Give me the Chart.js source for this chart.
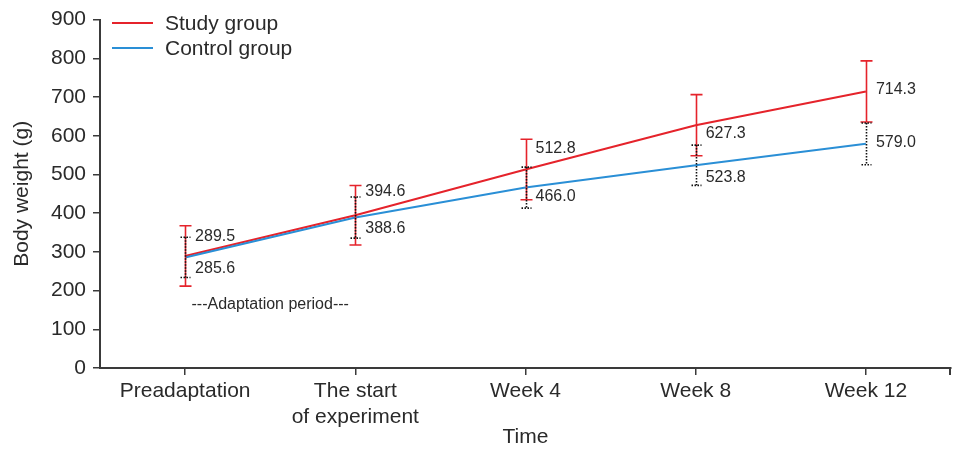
<!DOCTYPE html>
<html>
<head>
<meta charset="utf-8">
<title>Body weight</title>
<script src="https://cdn.jsdelivr.net/npm/chart.js@4/dist/chart.umd.min.js"></script>
<style>
    html, body {
        margin: 0;
        padding: 0;
        background: #fff;
    }

    .chart-box {
        position: relative;
        width: 957px;
        height: 450px;
    }
</style>
</head>
<body>

<div class="chart-box">
    <canvas id="cWeight"></canvas>
</div>

<script>
/* =========================================================
   DATA
========================================================= */

const labels = [
    "Preadaptation",
    ["The start", "of experiment"],
    "Week 4",
    "Week 8",
    "Week 12"
];

const studyMean = [289.5, 394.6, 512.8, 627.3, 714.3];
const studySD = [78, 77, 78, 79, 79];

const controlMean = [285.6, 388.6, 466.0, 523.8, 579.0];
const controlSD = [52, 53, 53, 52, 54];

const yTicks = { min: 0, max: 900, step: 100 };

/* =========================================================
   STYLE
========================================================= */

const RED = "#e5232b";
const BLUE = "#2a8fd6";
const AXIS = "#3a3a3a";
const TEXT = "#2a2a2a";
const FONT = "'Liberation Sans', Arial, Helvetica, sans-serif";

Chart.defaults.font.family = FONT;
Chart.defaults.color = TEXT;

/* =========================================================
   PLUGIN: error bars, value labels, legend, note
========================================================= */

const extras = {
    id: "extras",

    afterDatasetsDraw(chart, args, opts) {

        const ctx = chart.ctx;
        const y = chart.scales.y;
        const x = chart.scales.x;

        // error bars: study (solid red) then control (dotted black)
        opts.bars.forEach(bar => {

            const meta = chart.getDatasetMeta(bar.index);
            const ds = chart.data.datasets[bar.index];

            ctx.save();
            ctx.strokeStyle = bar.color;
            ctx.lineWidth = bar.width;
            ctx.setLineDash(bar.dash);

            meta.data.forEach((pt, i) => {

                const top = y.getPixelForValue(ds.data[i] + bar.err[i]);
                const bot = y.getPixelForValue(ds.data[i] - bar.err[i]);
                const cx = Math.round(pt.x) + 0.5;

                ctx.beginPath();
                ctx.moveTo(cx, top);
                ctx.lineTo(cx, bot);
                ctx.moveTo(cx - bar.cap, top);
                ctx.lineTo(cx + bar.cap, top);
                ctx.moveTo(cx - bar.cap, bot);
                ctx.lineTo(cx + bar.cap, bot);
                ctx.stroke();
            });

            ctx.restore();
        });

        // value labels
        ctx.save();
        ctx.font = "16px " + FONT;
        ctx.fillStyle = TEXT;
        ctx.textAlign = "left";
        ctx.textBaseline = "middle";

        opts.bars.forEach(bar => {

            const meta = chart.getDatasetMeta(bar.index);
            const ds = chart.data.datasets[bar.index];

            meta.data.forEach((pt, i) => {
                ctx.fillText(
                    ds.data[i].toFixed(1),
                    pt.x + 10,
                    pt.y + bar.shift[i]
                );
            });
        });

        // adaptation note, centred between the first two categories
        ctx.textAlign = "center";
        const nx = (x.getPixelForValue(0) + x.getPixelForValue(1)) / 2;
        ctx.fillText(opts.note, nx, y.getPixelForValue(165));

        ctx.restore();
    },

    afterDraw(chart, args, opts) {

        const ctx = chart.ctx;
        const area = chart.chartArea;

        // closing tick at the right end of the x axis
        ctx.save();
        ctx.strokeStyle = AXIS;
        ctx.lineWidth = 2;
        ctx.beginPath();
        ctx.moveTo(area.right - 1, area.bottom);
        ctx.lineTo(area.right - 1, area.bottom + 7);
        ctx.stroke();

        // legend
        ctx.font = "21px " + FONT;
        ctx.textAlign = "left";
        ctx.textBaseline = "middle";
        ctx.lineWidth = 2;

        chart.data.datasets.forEach((ds, i) => {
            const ly = 23 + i * 25;
            ctx.strokeStyle = ds.borderColor;
            ctx.beginPath();
            ctx.moveTo(112, ly);
            ctx.lineTo(153, ly);
            ctx.stroke();
            ctx.fillStyle = TEXT;
            ctx.fillText(ds.label, 165, ly + 1);
        });

        ctx.restore();
    }
};

/* =========================================================
   CHART
========================================================= */

new Chart(document.getElementById("cWeight"), {
    type: "line",

    data: {
        labels,

        datasets: [
            {
                label: "Study group",
                data: studyMean,
                borderColor: RED,
                borderWidth: 2,
                pointRadius: 0,
                tension: 0,
                order: 2
            },
            {
                label: "Control group",
                data: controlMean,
                borderColor: BLUE,
                borderWidth: 2,
                pointRadius: 0,
                tension: 0,
                order: 1
            }
        ]
    },

    options: {
        responsive: true,
        maintainAspectRatio: false,
        animation: false,

        layout: {
            padding: { top: 16, right: 6, left: 0, bottom: 0 }
        },

        plugins: {
            legend: { display: false },
            tooltip: { enabled: false },

            extras: {
                note: "---Adaptation period---",
                bars: [
                    {
                        index: 0,
                        err: studySD,
                        color: RED,
                        width: 1.6,
                        dash: [],
                        cap: 6,
                        shift: [-19, -24, -21, 8, -2]
                    },
                    {
                        index: 1,
                        err: controlSD,
                        color: "#111",
                        width: 1.6,
                        dash: [1.5, 1.5],
                        cap: 5,
                        shift: [11, 11, 9, 12, -1]
                    }
                ]
            }
        },

        scales: {
            x: {
                offset: true,
                afterFit: s => { s.height = 82; },

                grid: {
                    drawOnChartArea: false,
                    drawTicks: true,
                    tickLength: 7,
                    color: AXIS,
                    lineWidth: 1.5
                },

                border: { display: true, color: AXIS, width: 2 },

                ticks: {
                    padding: 4,
                    color: TEXT,
                    font: { size: 21 },
                    maxRotation: 0
                },

                title: {
                    display: true,
                    text: "Time",
                    color: TEXT,
                    font: { size: 21 },
                    padding: { top: 0, bottom: 0 }
                }
            },

            y: {
                min: yTicks.min,
                max: yTicks.max,
                afterFit: s => { s.width = 100; },

                grid: {
                    drawOnChartArea: false,
                    drawTicks: true,
                    tickLength: 7,
                    color: AXIS,
                    lineWidth: 1.5
                },

                border: { display: true, color: AXIS, width: 2 },

                ticks: {
                    stepSize: yTicks.step,
                    padding: 7,
                    color: TEXT,
                    font: { size: 21 }
                },

                title: {
                    display: true,
                    text: "Body weight (g)",
                    color: TEXT,
                    font: { size: 21 },
                    padding: { top: 10, bottom: 0 }
                }
            }
        }
    },

    plugins: [extras]
});
</script>
</body>
</html>
